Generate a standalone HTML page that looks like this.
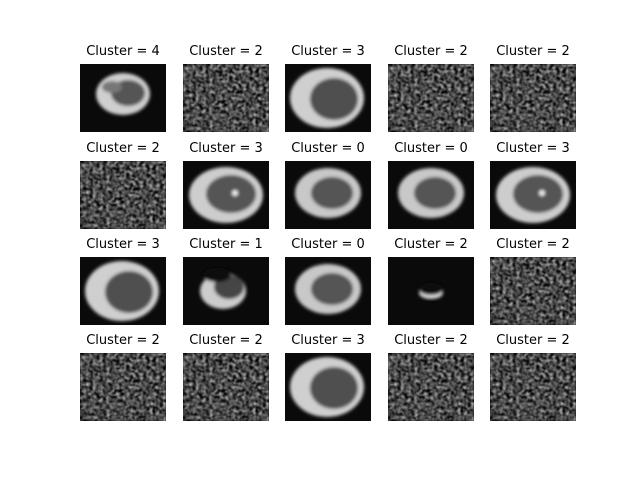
<!DOCTYPE html>
<html><head><meta charset="utf-8"><style>
body{margin:0;background:#fff}
svg{display:block}
text{font-family:"DejaVu Sans","Liberation Sans",sans-serif;font-size:13px;fill:#000}
</style></head><body>
<svg id="fig" width="640" height="480" viewBox="0 0 640 480">
<defs>
<filter id="noise" x="0" y="0" width="100%" height="100%" color-interpolation-filters="sRGB">
<feTurbulence type="fractalNoise" baseFrequency="0.3" numOctaves="2" seed="3" result="t"/>
<feColorMatrix type="matrix" values="0.33 0.33 0.33 0 0 0.33 0.33 0.33 0 0 0.33 0.33 0.33 0 0 0 0 0 0 1"/>
<feComponentTransfer><feFuncR type="linear" slope="2.2" intercept="-0.8"/><feFuncG type="linear" slope="2.2" intercept="-0.8"/><feFuncB type="linear" slope="2.2" intercept="-0.8"/></feComponentTransfer>
<feGaussianBlur stdDeviation="0.5"/>
</filter>
<filter id="blur"><feGaussianBlur stdDeviation="1.5"/></filter>
</defs>
</svg>
<script>
const clusters=[4,2,3,2,2, 2,3,0,0,3, 3,1,0,2,2, 2,2,3,2,2];
const kinds=["partial","noise","bigring","noise","noise","noise","dotring","ring","ring","dotring","bigring","crescent","ring","tiny","noise","noise","noise","bigring","noise","noise"];
const colX=[80,183,285,388,490], rowY=[64,161,257,353], W=86, H=68;
const svg=document.getElementById('fig'), NS='http://www.w3.org/2000/svg';
function mk(t,a,p){const e=document.createElementNS(NS,t);for(const k in a)e.setAttribute(k,a[k]);p.appendChild(e);return e;}
clusters.forEach((c,i)=>{
  const x=colX[i%5], y=rowY[Math.floor(i/5)], k=kinds[i];
  const g=mk('g',{transform:`translate(${x},${y})`},svg);
  
  
  mk('rect',{width:W,height:H,fill:'#0a0a0a'},g);
  if(k==='noise'){ mk('rect',{width:W,height:H,fill:'#000',filter:'url(#noise)'},g);}
  else{
    const b=mk('g',{filter:'url(#blur)'},g);
    if(k==='bigring'){mk('ellipse',{cx:42,cy:34,rx:37,ry:30,fill:'#cfcfcf'},b);mk('ellipse',{cx:49,cy:35,rx:24,ry:21,fill:'#505050'},b);}
    else if(k==='dotring'){mk('ellipse',{cx:43,cy:34,rx:37,ry:28,fill:'#cdcdcd'},b);mk('ellipse',{cx:48,cy:33,rx:25,ry:19,fill:'#555'},b);mk('circle',{cx:52,cy:32,r:3,fill:'#eee'},b);}
    else if(k==='ring'){mk('ellipse',{cx:43,cy:32,rx:33,ry:25,fill:'#c8c8c8'},b);mk('ellipse',{cx:47,cy:32,rx:21,ry:16,fill:'#555'},b);}
    else if(k==='partial'){mk('ellipse',{cx:43,cy:30,rx:27,ry:21,fill:'#cfcfcf'},b);mk('ellipse',{cx:48,cy:29,rx:17,ry:13,fill:'#555'},b);mk('ellipse',{cx:32,cy:23,rx:10,ry:6,fill:'#777'},b);}
    else if(k==='crescent'){mk('ellipse',{cx:40,cy:34,rx:23,ry:18,fill:'#ccc'},b);mk('ellipse',{cx:46,cy:30,rx:15,ry:12,fill:'#444'},b);mk('ellipse',{cx:34,cy:18,rx:14,ry:7,fill:'#0a0a0a'},b);}
    else if(k==='tiny'){mk('ellipse',{cx:43,cy:36,rx:12,ry:6,fill:'#ddd'},b);mk('ellipse',{cx:43,cy:32,rx:12,ry:6,fill:'#0a0a0a'},b);}
  }
  const t=mk('text',{x:x+W/2,y:y-9,'text-anchor':'middle'},svg);
  
  
  t.textContent='Cluster = '+c;
});
</script>
</body></html>
